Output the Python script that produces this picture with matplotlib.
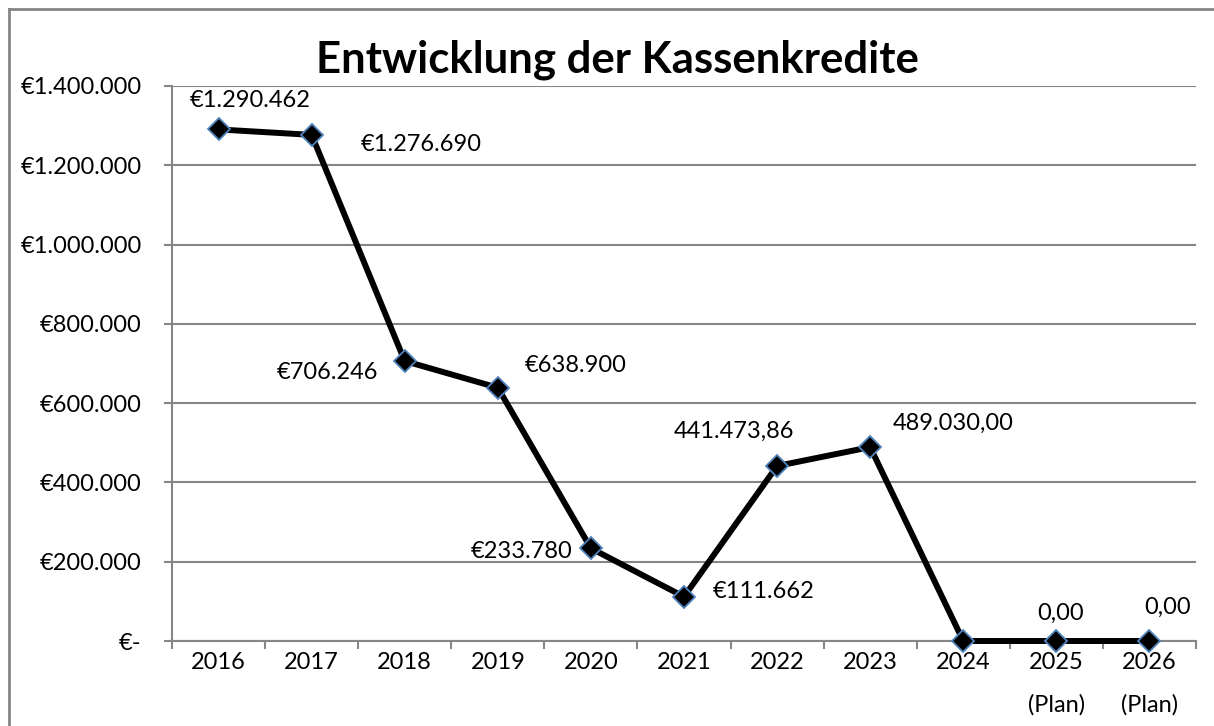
import matplotlib.pyplot as plt
from matplotlib.lines import Line2D

years = ["2016", "2017", "2018", "2019", "2020", "2021", "2022", "2023", "2024",
         "2025\n(Plan)", "2026\n(Plan)"]
values = [1290462, 1276690, 706246, 638900, 233780, 111662, 441473.86, 489030.00, 0, 0, 0]
labels = ["€1.290.462", "€1.276.690", "€706.246", "€638.900", "€233.780", "€111.662",
          "441.473,86", "489.030,00", None, "0,00", "0,00"]
# label offsets in points (dx, dy) and alignment
offsets = [(23, 21, "center"), (35, -7, "left"), (-19, -8, "right"), (19, 16, "left"),
           (-13, -2, "right"), (21, 4, "left"), (-31, 25, "center"), (16, 17, "left"),
           None, (3, 20, "center"), (13, 24, "center")]
yticks = [0, 200000, 400000, 600000, 800000, 1000000, 1200000, 1400000]
ytick_labels = ["€-", "€200.000", "€400.000", "€600.000", "€800.000",
                "€1.000.000", "€1.200.000", "€1.400.000"]

plt.rcParams['font.family'] = ['Lato', 'DejaVu Sans']

fig = plt.figure(figsize=(12.14, 7.26), dpi=100)
ax = fig.add_axes([172 / 1214, 1 - 641 / 726, (1196 - 172) / 1214, (641 - 86) / 726])

x = list(range(len(values)))
ax.plot(x, values, color="black", linewidth=4.3, marker="D", markersize=11,
        markerfacecolor="black", markeredgecolor="#4F81BD", markeredgewidth=1.3,
        zorder=3, clip_on=False)

for i, lab in enumerate(labels):
    if lab is None:
        continue
    dx, dy, ha = offsets[i]
    ax.annotate(lab, (x[i], values[i]), xytext=(dx, dy), textcoords="offset points",
                ha=ha, va="center", fontsize=17, color="black")

ax.set_xlim(-0.5, len(values) - 0.5)
ax.set_ylim(0, 1400000)
ax.set_yticks(yticks)
ax.set_yticklabels(ytick_labels, fontsize=17)
ax.set_xticks(x)
ax.set_xticklabels(years, fontsize=17, linespacing=2.2, va="top")
ax.set_xticks([i - 0.5 for i in range(len(values) + 1)], minor=True)
ax.tick_params(axis="x", which="major", length=0, pad=8)
ax.tick_params(axis="x", which="minor", length=6, color="#868686", width=1.5)
ax.tick_params(axis="y", length=6, color="#868686", width=1.5, pad=16)

ax.grid(axis="y", color="#868686", linewidth=1.5)
ax.set_axisbelow(True)
for side in ["top", "right"]:
    ax.spines[side].set_visible(False)
for side in ["left", "bottom"]:
    ax.spines[side].set_color("#868686")
    ax.spines[side].set_linewidth(1.5)

fig.text(617 / 1214, 1 - 60 / 726, "Entwicklung der Kassenkredite", ha="center",
         va="center", fontsize=31.5, fontweight="bold")

# outer chart frame (only top and left visible in the crop)
fig.add_artist(Line2D([9 / 1214, 9 / 1214], [0, 1 - 9 / 726], color="#868686",
                      linewidth=2, transform=fig.transFigure))
fig.add_artist(Line2D([9 / 1214, 1], [1 - 9 / 726, 1 - 9 / 726], color="#868686",
                      linewidth=2, transform=fig.transFigure))

fig.savefig("out.png", dpi=100)
